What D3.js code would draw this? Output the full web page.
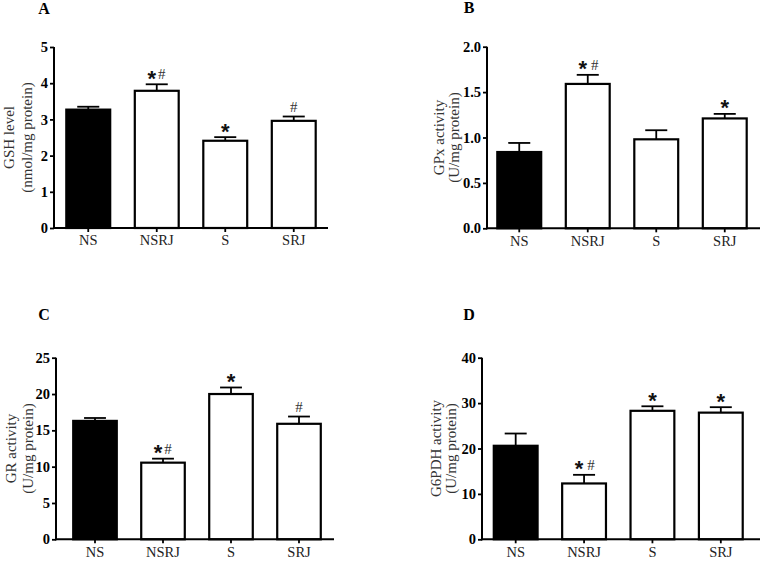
<!DOCTYPE html>
<html>
<head>
<meta charset="utf-8">
<script src="https://cdn.jsdelivr.net/npm/d3@7"></script>
<style>
  html, body { margin: 0; padding: 0; background: #fff; }
  svg { display: block; }
</style>
</head>
<body>
<div id="chart"></div>
<script>
// ---------- data ----------
const categories = ["NS", "NSRJ", "S", "SRJ"];

const gshMean = [3.27, 3.79, 2.41, 2.96];
const gshErr  = [0.08, 0.18, 0.10, 0.12];
const gshSig  = ["", "*#", "*", "#"];
const gshTicks = [0, 1, 2, 3, 4, 5];

const gpxMean = [0.84, 1.59, 0.98, 1.21];
const gpxErr  = [0.10, 0.10, 0.10, 0.05];
const gpxSig  = ["", "* #", "", "*"];
const gpxTicks = [0, 0.5, 1.0, 1.5, 2.0];

const grMean = [16.3, 10.55, 20.0, 15.9];
const grErr  = [0.4, 0.55, 0.9, 1.0];
const grSig  = ["", "*#", "*", "#"];
const grTicks = [0, 5, 10, 15, 20, 25];

const g6pdhMean = [20.6, 12.3, 28.3, 27.9];
const g6pdhErr  = [2.7, 1.9, 1.0, 1.2];
const g6pdhSig  = ["", "* #", "*", "*"];
const g6pdhTicks = [0, 10, 20, 30, 40];

// ---------- layout ----------
const W = 762, H = 561;
const svg = d3.select("#chart").append("svg").attr("width", W).attr("height", H);

const SERIF = "'Liberation Serif', 'Times New Roman', serif";
const SANS = "'Liberation Sans', Arial, sans-serif";

const panels = [
  { letter: "A", lx: 44, ly: 14, mean: gshMean, err: gshErr, sig: gshSig, ticks: gshTicks, fmt: d3.format("d"),
    yMax: 5, ax: 54, axEnd: 328, bandRange: [54, 328], y0: 228, y1: 47,
    labels: ["GSH level", "(nmol/mg protein)"], lOff: [-45, -27] },
  { letter: "B", lx: 469, ly: 13, mean: gpxMean, err: gpxErr, sig: gpxSig, ticks: gpxTicks, fmt: d3.format(".1f"),
    yMax: 2, ax: 487, axEnd: 760, bandRange: [485, 759], y0: 228.3, y1: 46.7,
    labels: ["GPx activity", "(U/mg protein)"], lOff: [-48, -33] },
  { letter: "C", lx: 44, ly: 320, mean: grMean, err: grErr, sig: grSig, ticks: grTicks, fmt: d3.format("d"),
    yMax: 25, ax: 56, axEnd: 334, bandRange: [61, 333], y0: 539.3, y1: 357.7,
    labels: ["GR activity", "(U/mg protein)"], lOff: [-45, -28] },
  { letter: "D", lx: 469, ly: 320, mean: g6pdhMean, err: g6pdhErr, sig: g6pdhSig, ticks: g6pdhTicks, fmt: d3.format("d"),
    yMax: 40, ax: 482, axEnd: 760, bandRange: [481.5, 755], y0: 539.3, y1: 357.7,
    labels: ["G6PDH activity", "(U/mg protein)"], lOff: [-46, -31] }
];

panels.forEach(p => {
  const g = svg.append("g");
  const x = d3.scaleBand().domain(categories).range(p.bandRange).paddingInner(0.33).paddingOuter(0.165);
  const y = d3.scaleLinear().domain([0, p.yMax]).range([p.y0, p.y1]);
  const data = categories.map((c, i) => ({ c, m: p.mean[i], e: p.err[i], s: p.sig[i], i }));

  // panel letter
  g.append("text").attr("x", p.lx).attr("y", p.ly).attr("text-anchor", "middle")
    .attr("font-family", SERIF).attr("font-weight", "bold").attr("font-size", 16).attr("fill", "#000")
    .text(p.letter);

  // error bars (upper only)
  const capW = x.bandwidth() * 0.48;
  data.forEach(d => {
    const cx = x(d.c) + x.bandwidth() / 2;
    g.append("line").attr("x1", cx).attr("x2", cx).attr("y1", y(d.m)).attr("y2", y(d.m + d.e))
      .attr("stroke", "#000").attr("stroke-width", 1.8);
    g.append("line").attr("x1", cx - capW / 2).attr("x2", cx + capW / 2)
      .attr("y1", y(d.m + d.e)).attr("y2", y(d.m + d.e))
      .attr("stroke", "#000").attr("stroke-width", 1.8);
  });

  // bars
  g.selectAll("rect.bar").data(data).enter().append("rect").attr("class", "bar")
    .attr("x", d => x(d.c) + 1).attr("width", x.bandwidth() - 2)
    .attr("y", d => y(d.m)).attr("height", d => y(0) - y(d.m))
    .attr("fill", d => d.i === 0 ? "#000" : "#fff")
    .attr("stroke", "#000").attr("stroke-width", 2.2);

  // significance marks
  data.forEach(d => {
    if (!d.s) return;
    const cx = x(d.c) + x.bandwidth() / 2;
    const cy = y(d.m + d.e);
    const chars = d.s.replace(/ /g, "").split("");
    let offs;
    if (chars.length === 1) offs = [0];
    else if (d.s.indexOf(" ") >= 0) offs = [-5, 7];
    else offs = [-5, 5];
    chars.forEach((ch, k) => {
      if (ch === "*") {
        g.append("text").attr("x", cx + offs[k]).attr("y", cy + 1.5).attr("text-anchor", "middle")
          .attr("font-family", SANS).attr("font-weight", "bold").attr("font-size", 22).attr("fill", "#111")
          .text("*");
      } else {
        g.append("text").attr("x", cx + offs[k]).attr("y", cy - 5).attr("text-anchor", "middle")
          .attr("font-family", SERIF).attr("font-size", 15).attr("fill", "#333")
          .text("#");
      }
    });
  });

  // y axis
  const yAxis = d3.axisLeft(y).tickValues(p.ticks).tickFormat(p.fmt).tickSize(4).tickPadding(2);
  const ya = g.append("g").attr("transform", `translate(${p.ax},0)`).call(yAxis);
  ya.select(".domain").remove();
  ya.append("line").attr("x1", 0).attr("x2", 0).attr("y1", p.y0 + 1).attr("y2", p.y1)
    .attr("stroke", "#000").attr("stroke-width", 2);
  ya.selectAll(".tick line").attr("stroke", "#000").attr("stroke-width", 1.8);
  ya.selectAll(".tick text").attr("font-family", SERIF).attr("font-weight", "bold")
    .attr("font-size", 14.5).attr("fill", "#000");

  // x axis
  const xAxis = d3.axisBottom(x).tickSize(4).tickPadding(3);
  const xa = g.append("g").attr("transform", `translate(0,${p.y0})`).call(xAxis);
  xa.select(".domain").remove();
  xa.append("line").attr("x1", p.ax - 1).attr("x2", p.axEnd).attr("y1", 0).attr("y2", 0)
    .attr("stroke", "#000").attr("stroke-width", 2);
  xa.selectAll(".tick line").attr("stroke", "#000").attr("stroke-width", 1.8);
  xa.selectAll(".tick text").attr("font-family", SERIF).attr("font-size", 14.5).attr("fill", "#222");

  // y label (two lines)
  const ymid = (p.y0 + p.y1) / 2;
  p.labels.forEach((t, k) => {
    g.append("text")
      .attr("transform", `translate(${p.ax + p.lOff[k]},${ymid}) rotate(-90)`)
      .attr("text-anchor", "middle").attr("dominant-baseline", "central")
      .attr("font-family", SERIF).attr("font-size", 15).attr("fill", "#333")
      .text(t);
  });
});
</script>
</body>
</html>
